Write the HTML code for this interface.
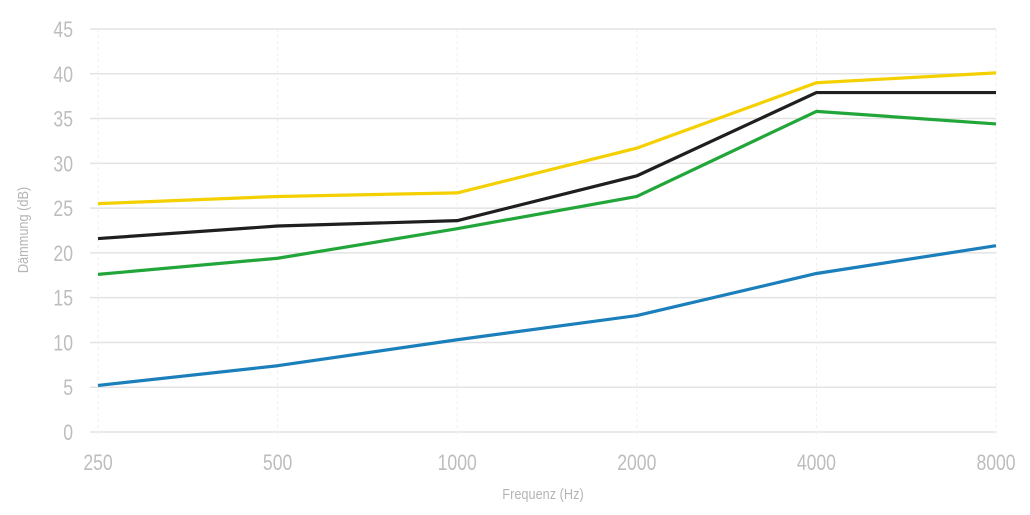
<!DOCTYPE html>
<html><head><meta charset="utf-8"><style>
html,body{margin:0;padding:0;background:#fff;}
svg{display:block;font-family:"Liberation Sans Narrow","Liberation Sans",sans-serif;}
</style></head><body>
<svg id="chart" width="1030" height="515" xmlns="http://www.w3.org/2000/svg">
<g id="grid"></g>
<g id="axes"></g>
<g id="series"></g>
<text x="543" y="499" text-anchor="middle" font-size="15" fill="#b5b5b5" transform="translate(543,0) scale(0.85,1) translate(-543,0)">Frequenz (Hz)</text>
<text x="0" y="0" text-anchor="middle" font-size="15" fill="#b5b5b5" transform="translate(28,230) rotate(-90) scale(0.85,1)">Dämmung (dB)</text>
</svg>
<script>
const categories = ["250","500","1000","2000","4000","8000"];
const yTicks = [0,5,10,15,20,25,30,35,40,45];
const seriesYellow = [25.5,26.3,26.7,31.7,39.0,40.1];
const seriesBlack = [21.6,23.0,23.6,28.6,37.9,37.9];
const seriesGreen = [17.6,19.4,22.7,26.3,35.8,34.4];
const seriesBlue = [5.2,7.4,10.3,13.0,17.7,20.8];

const NS="http://www.w3.org/2000/svg";
const x0=98,x1=996,yBase=432,yTop=29,yMax=45;
function xPos(i){return x0+i*(x1-x0)/(categories.length-1);}
function yPos(v){return yBase-v*(yBase-yTop)/yMax;}
function mk(tag,attrs,parent){const e=document.createElementNS(NS,tag);for(const k in attrs)e.setAttribute(k,attrs[k]);parent.appendChild(e);return e;}
const grid=document.getElementById('grid'),axes=document.getElementById('axes'),ser=document.getElementById('series');
yTicks.forEach(v=>{
  const l=mk('line',{x1:90,x2:996,y1:yPos(v),y2:yPos(v),stroke:'#e3e3e3','stroke-width':1.5},grid);
  
  
  const t=mk('text',{x:0,y:0,'text-anchor':'end','font-size':22,fill:'#bdbdbd',transform:`translate(73,${yPos(v)+8}) scale(0.8,1)`},axes);
  t.textContent=v;
  
  
});
categories.forEach((c,i)=>{
  const l=mk('line',{x1:xPos(i),x2:xPos(i),y1:yTop,y2:yBase+6,stroke:'#eeeeee','stroke-width':1,'stroke-dasharray':'3,3'},grid);
  
  
  const t=mk('text',{x:0,y:0,'text-anchor':'middle','font-size':22,fill:'#bdbdbd',transform:`translate(${xPos(i)},470) scale(0.8,1)`},axes);
  t.textContent=c;
  
  
});
[[seriesBlue,'#1a7fbb','blue'],[seriesGreen,'#22a63a','green'],[seriesBlack,'#1f1f1f','black'],[seriesYellow,'#f5d000','yellow']].forEach(([d,col,n])=>{
  const p=mk('polyline',{points:d.map((v,i)=>xPos(i)+','+yPos(v)).join(' '),fill:'none',stroke:col,'stroke-width':3.2,'stroke-linejoin':'round'},ser);
  
  
});
</script>
</body></html>
